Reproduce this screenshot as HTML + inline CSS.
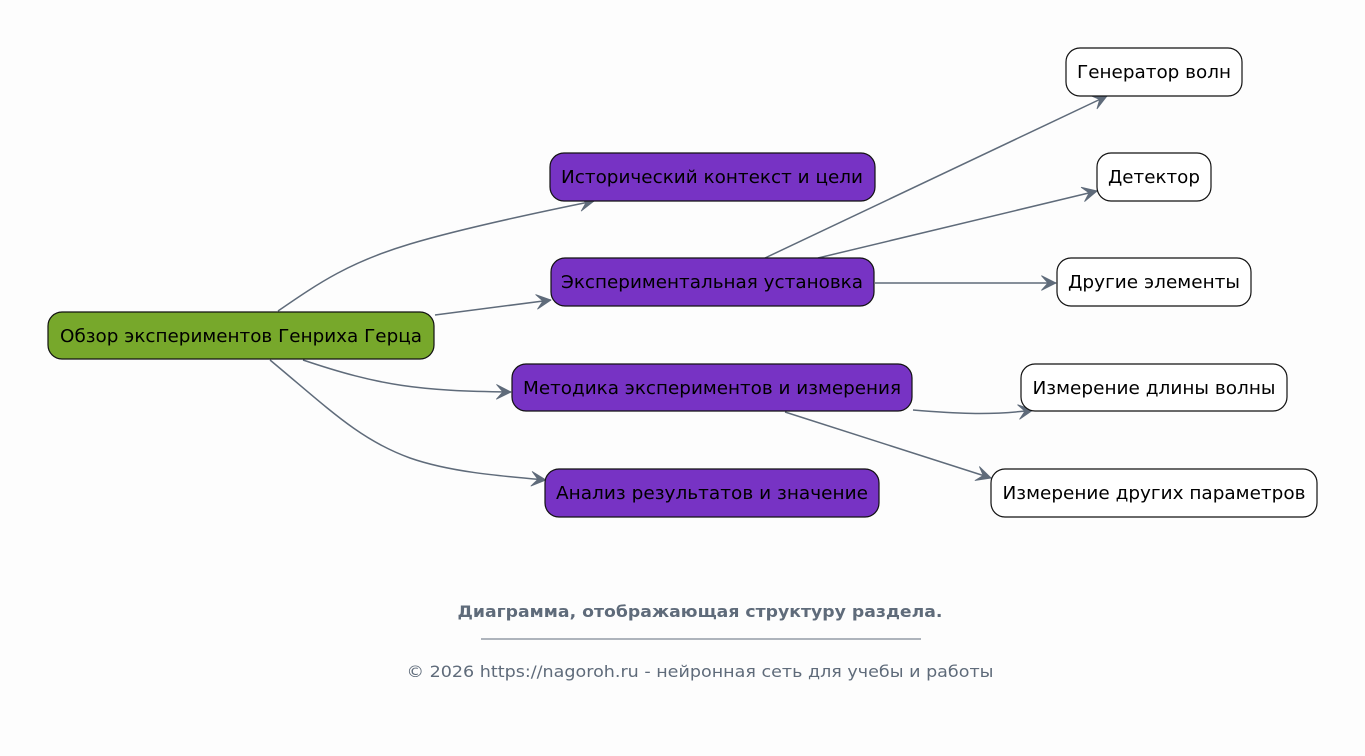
<!DOCTYPE html>
<html><head><meta charset="utf-8"><style>
html,body{margin:0;padding:0;background:#fdfdfd;}
svg{display:block;}
text{font-family:"DejaVu Sans","Liberation Sans",sans-serif;}
</style></head><body>
<svg width="1365" height="756" viewBox="0 0 1365 756" xmlns="http://www.w3.org/2000/svg">
<defs>
<marker id="a" viewBox="0 0 20 20" refX="18" refY="10" markerWidth="18" markerHeight="18" markerUnits="userSpaceOnUse" orient="auto">
<path d="M2,2 L18,10 L2,18 L9,10 Z" fill="#5f6b7a" stroke="#5f6b7a" stroke-width="1" stroke-linejoin="round"/>
</marker>
</defs>
<rect width="1365" height="756" fill="#fdfdfd"/>
<g fill="none" stroke="#5f6b7a" stroke-width="1.5" marker-end="url(#a)">
<path d="M278,311 C320,282 350,262 410,244 C460,229 530,214 594,201"/>
<path d="M435,315 L551,300"/>
<path d="M303,360 C380,386 420,391 511,392"/>
<path d="M270,360 C330,410 360,440 410,458 C450,472 500,476 546,480"/>
<path d="M765,258 L1107,96"/>
<path d="M818,258 L1097,191"/>
<path d="M875,283 L1056,283"/>
<path d="M913,410 C950,413 990,416 1033,410"/>
<path d="M785,412 L991,478"/>
</g>
<g stroke="#111" stroke-width="1.2">
<rect x="48" y="312" width="386" height="47" rx="14" fill="#77a82b"/>
<rect x="550" y="153" width="325" height="48" rx="14" fill="#7733c4"/>
<rect x="551" y="258" width="323" height="48" rx="14" fill="#7733c4"/>
<rect x="512" y="364" width="400" height="47" rx="14" fill="#7733c4"/>
<rect x="545" y="469" width="334" height="48" rx="14" fill="#7733c4"/>
<rect x="1066" y="48" width="176" height="48" rx="14" fill="#fff"/>
<rect x="1097" y="153" width="114" height="48" rx="14" fill="#fff"/>
<rect x="1057" y="258" width="194" height="48" rx="14" fill="#fff"/>
<rect x="1021" y="364" width="266" height="47" rx="14" fill="#fff"/>
<rect x="991" y="469" width="326" height="48" rx="14" fill="#fff"/>
</g>
<g font-size="17.5" fill="#000" text-anchor="middle" lengthAdjust="spacingAndGlyphs">
<text x="241" y="342" textLength="362" lengthAdjust="spacingAndGlyphs">Обзор экспериментов Генриха Герца</text>
<text x="712" y="183" textLength="302" lengthAdjust="spacingAndGlyphs">Исторический контекст и цели</text>
<text x="712" y="288" textLength="302" lengthAdjust="spacingAndGlyphs">Экспериментальная установка</text>
<text x="712" y="394" textLength="378" lengthAdjust="spacingAndGlyphs">Методика экспериментов и измерения</text>
<text x="712" y="499" textLength="312" lengthAdjust="spacingAndGlyphs">Анализ результатов и значение</text>
<text x="1154" y="78" textLength="154" lengthAdjust="spacingAndGlyphs">Генератор волн</text>
<text x="1154" y="183" textLength="92" lengthAdjust="spacingAndGlyphs">Детектор</text>
<text x="1154" y="288" textLength="172" lengthAdjust="spacingAndGlyphs">Другие элементы</text>
<text x="1154" y="394" textLength="243" lengthAdjust="spacingAndGlyphs">Измерение длины волны</text>
<text x="1154" y="499" textLength="303" lengthAdjust="spacingAndGlyphs">Измерение других параметров</text>
</g>
<g fill="#5f6b7a" text-anchor="middle">
<text x="700" y="617" font-size="16" font-weight="bold" textLength="485" lengthAdjust="spacingAndGlyphs">Диаграмма, отображающая структуру раздела.</text>
<line x1="481" y1="639" x2="921" y2="639" stroke="#5f6b7a" stroke-width="1"/>
<text x="700" y="677" font-size="16" textLength="587" lengthAdjust="spacingAndGlyphs">© 2026 https://nagoroh.ru - нейронная сеть для учебы и работы</text>
</g>
</svg>
</body></html>
